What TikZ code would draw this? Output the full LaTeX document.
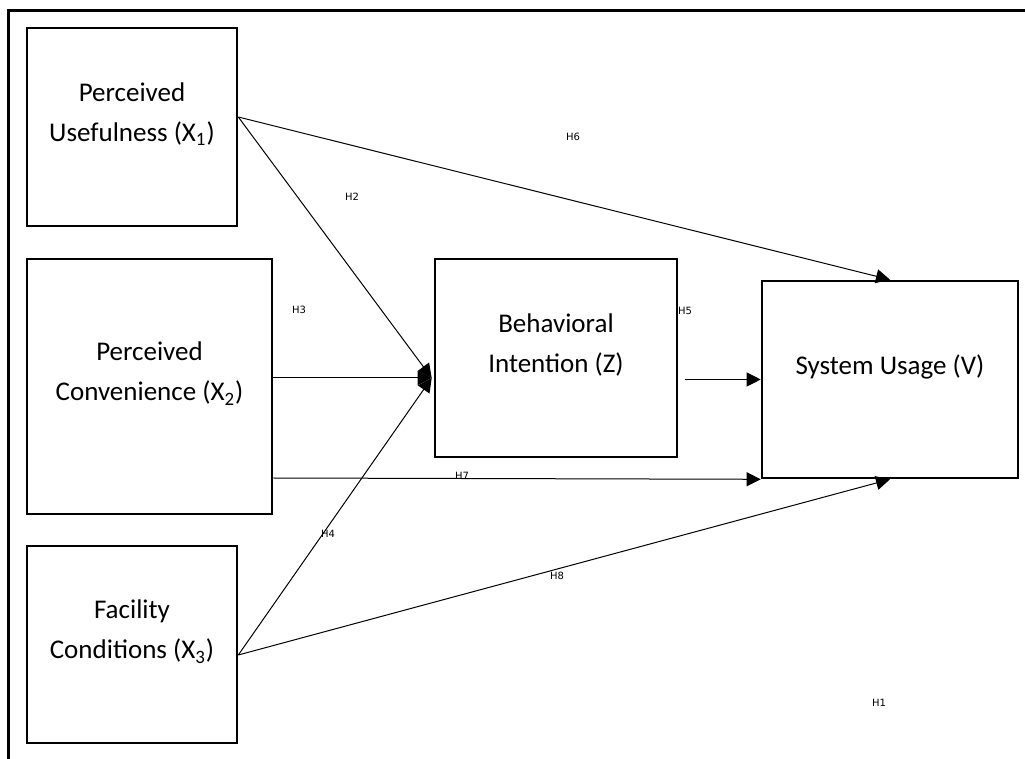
\documentclass[tikz,border=0pt]{standalone}
\usepackage{fontspec}
\setmainfont{Carlito}
\newfontfamily\hypfont{DejaVu Sans}
\usetikzlibrary{arrows.meta,calc}

\begin{document}
\begin{tikzpicture}[x=0.5pt,y=-0.5pt,
        box/.style = {draw, line width=1.3pt, align=center, font=\fontsize{13.5}{20}\selectfont, text depth=15pt},
        hyp/.style = {font=\hypfont\fontsize{5}{6}\selectfont, inner sep=0pt},
        arr/.style = {-{Triangle[length=7pt,width=7pt]}, line width=0.5pt}
    ]
        \useasboundingbox (0,0) rectangle (1025,759);
        \clip (0,0) rectangle (1025,759);
        \draw[line width=1.5pt] (8,759) -- (8,11) -- (1025,11);

        \node[box, minimum width=105pt, minimum height=99pt] (x1) at (132,127) {Perceived\\Usefulness (X\textsubscript{1})};
        \node[box, minimum width=122.5pt, minimum height=127.5pt] (x2) at (149.5,386.5) {Perceived\\Convenience (X\textsubscript{2})};
        \node[box, minimum width=105pt, minimum height=98.5pt] (x3) at (132,644.5) {Facility\\Conditions (X\textsubscript{3})};
        \node[box, minimum width=121pt, minimum height=99pt] (z) at (556,358) {Behavioral\\Intention (Z)};
        \node[box, minimum width=128pt, minimum height=98.5pt] (v) at (890,379.5) {System Usage (V)};

        \coordinate (x1out) at ($(x1.east)+(0,-10)$);
        \coordinate (x2out) at ($(x2.east)+(0,-8.5)$);
        \coordinate (x2low) at ($(x2.east)+(0,91.5)$);
        \coordinate (x3out) at ($(x3.east)+(0,10.5)$);
        \coordinate (zin) at ($(z.west)+(-2,20)$);
        \coordinate (zout) at ($(z.east)+(7,21.5)$);

        \draw[arr] (x1out) -- (zin);
        \draw[arr] (x2out) -- (zin);
        \draw[arr] (x3out) -- (zin);
        \draw[arr] (x1out) -- (v.north);
        \draw[arr] (zout) -- (zout -| v.west);
        \draw[arr] (x2low) -- (v.south west);
        \draw[arr] (x3out) -- (v.south);

        \node[hyp] (h1) at (879,703) {H1};
        \node[hyp] (h2) at (352,197) {H2};
        \node[hyp] (h3) at (299,310) {H3};
        \node[hyp] (h4) at (328,534) {H4};
        \node[hyp] (h5) at (685,311) {H5};
        \node[hyp] (h6) at (573,137) {H6};
        \node[hyp] (h7) at (462,476) {H7};
        \node[hyp] (h8) at (557,576) {H8};
    \end{tikzpicture}
\end{document}
